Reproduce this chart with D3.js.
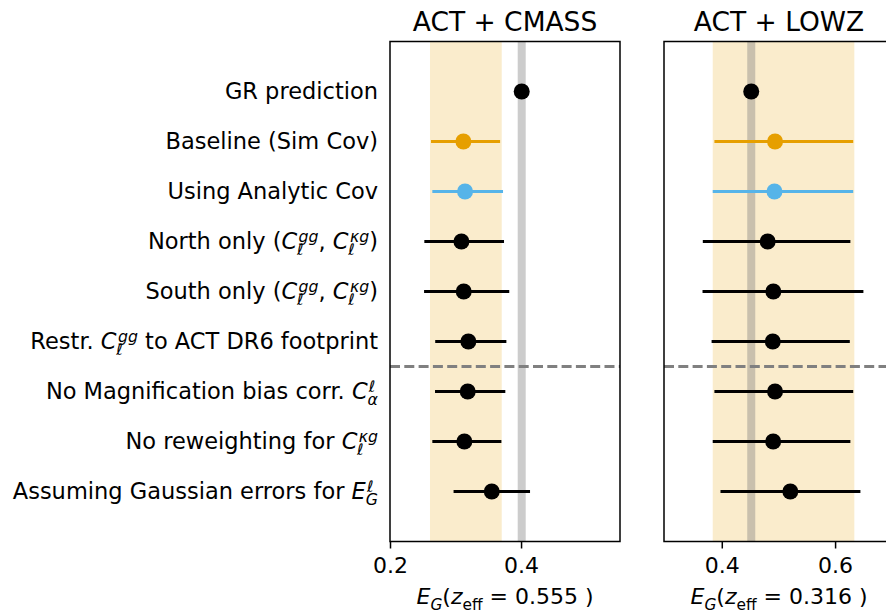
<!DOCTYPE html>
<html>
<head>
<meta charset="utf-8">
<script src="https://cdn.jsdelivr.net/npm/d3@7"></script>
<style>
  body { margin: 0; background: #fff; }
  text { font-family: "DejaVu Sans", sans-serif; fill: #000; white-space: pre; }
</style>
</head>
<body>
<div id="chart"></div>
<script>
// rows, top to bottom. strings are plain text, objects are math bits
const rowLabels = [
    ["GR prediction"],
    ["Baseline (Sim Cov)"],
    ["Using Analytic Cov"],
    ["North only (", {m: "C", sub: "ℓ", sup: "gg"}, {r: ", "}, {m: "C", sub: "ℓ", sup: "κg"}, ")"],
    ["South only (", {m: "C", sub: "ℓ", sup: "gg"}, {r: ", "}, {m: "C", sub: "ℓ", sup: "κg"}, ")"],
    ["Restr. ", {m: "C", sub: "ℓ", sup: "gg"}, " to ACT DR6 footprint"],
    ["No Magnification bias corr. ", {m: "C", sub: "α", sup: "ℓ"}],
    ["No reweighting for ", {m: "C", sub: "ℓ", sup: "κg"}],
    ["Assuming Gaussian errors for ", {m: "E", sub: "G", sup: "ℓ"}]
];
const rowColors = ["#000", "#E69F00", "#56B4E9", "#000", "#000", "#000", "#000", "#000", "#000"];

const panelTitles = ["ACT + CMASS", "ACT + LOWZ"];
const zEff = ["0.555", "0.316"];

// E_G central values and error bar ends (first row = GR prediction, no bar)
const cmassVal = [0.401, 0.312, 0.3145, 0.309, 0.3125, 0.3196, 0.3186, 0.3135, 0.3553];
const cmassLo  = [null, 0.2626, 0.2646, 0.2524, 0.252, 0.269, 0.2687, 0.2646, 0.297];
const cmassHi  = [null, 0.368, 0.3725, 0.374, 0.382, 0.3776, 0.376, 0.370, 0.4137];

const lowzVal = [0.452, 0.494, 0.493, 0.481, 0.491, 0.490, 0.494, 0.4907, 0.521];
const lowzLo  = [null, 0.387, 0.384, 0.3665, 0.366, 0.382, 0.387, 0.384, 0.3977];
const lowzHi  = [null, 0.632, 0.632, 0.627, 0.650, 0.626, 0.632, 0.627, 0.6447];

const cmassBand = [0.261, 0.3705];
const lowzBand  = [0.384, 0.634];
const cmassGR = 0.401;
const lowzGR  = 0.452;

const cmassTicks = [0.2, 0.4];
const lowzTicks  = [0.4, 0.6];

const width = 886, height = 614;
const plotTop = 41.5, plotBottom = 541.5;
const fs = 22.5;

const svg = d3.select("#chart").append("svg")
    .attr("width", width)
    .attr("height", height);

const y = d3.scaleLinear().domain([-1, 9]).range([plotTop, plotBottom]);

// lays out a label made of plain text and math pieces, returns the group width
function richText(g, parts, size) {
    let x = 0;
    const small = size * 0.7;
    function piece(t, px, py, s, italic) {
        const el = g.append("text")
            .attr("x", px).attr("y", py)
            .style("font-size", s + "px")
            .style("font-style", italic ? "oblique" : "normal")
            .text(t);
        return el.node().getComputedTextLength();
    }
    parts.forEach(p => {
        if (typeof p === "string") {
            x += piece(p, x, 0, size, false);
        } else if (p.r) {
            x += piece(p.r, x, 0, size, false);
        } else {
            x += piece(p.m, x, 0, size, true);
            let w = 0;
            if (p.sub) w = Math.max(w, piece(p.sub, x, size * 0.26, small, !p.subRm));
            if (p.sup) w = Math.max(w, piece(p.sup, x + size * 0.06, -size * 0.33, small, true) + size * 0.06);
            x += w;
        }
    });
    return x;
}

const panels = [
    {x0: 390, x1: 620, dom: [0.2, 0.551], val: cmassVal, lo: cmassLo, hi: cmassHi,
     band: cmassBand, gr: cmassGR, ticks: cmassTicks, title: panelTitles[0], z: zEff[0]},
    {x0: 664, x1: 894, dom: [0.298, 0.704], val: lowzVal, lo: lowzLo, hi: lowzHi,
     band: lowzBand, gr: lowzGR, ticks: lowzTicks, title: panelTitles[1], z: zEff[1]}
];

panels.forEach(p => {
    const x = d3.scaleLinear().domain(p.dom).range([p.x0, p.x1]);
    const g = svg.append("g");

    g.append("rect")
        .attr("x", x(p.band[0]))
        .attr("y", plotTop)
        .attr("width", x(p.band[1]) - x(p.band[0]))
        .attr("height", plotBottom - plotTop)
        .attr("fill", "#E69F00")
        .attr("fill-opacity", 0.2);

    g.append("rect")
        .attr("x", x(p.gr) - 4)
        .attr("y", plotTop)
        .attr("width", 8)
        .attr("height", plotBottom - plotTop)
        .attr("fill", "gray")
        .attr("fill-opacity", 0.4);

    g.append("line")
        .attr("x1", p.x0).attr("x2", p.x1)
        .attr("y1", y(5.5)).attr("y2", y(5.5))
        .attr("stroke", "gray")
        .attr("stroke-width", 3)
        .attr("stroke-dasharray", "10,4.3");

    const rows = p.val.map((v, i) => ({v: v, lo: p.lo[i], hi: p.hi[i], i: i, c: rowColors[i]}));

    g.selectAll("line.err")
        .data(rows.filter(d => d.lo !== null))
        .enter()
        .append("line")
        .attr("class", "err")
        .attr("x1", d => x(d.lo))
        .attr("x2", d => x(d.hi))
        .attr("y1", d => y(d.i))
        .attr("y2", d => y(d.i))
        .attr("stroke", d => d.c)
        .attr("stroke-width", 3);

    g.selectAll("circle")
        .data(rows)
        .enter()
        .append("circle")
        .attr("cx", d => x(d.v))
        .attr("cy", d => y(d.i))
        .attr("r", 8)
        .attr("fill", d => d.c);

    g.append("rect")
        .attr("x", p.x0).attr("y", plotTop)
        .attr("width", p.x1 - p.x0).attr("height", plotBottom - plotTop)
        .attr("fill", "none")
        .attr("stroke", "#000")
        .attr("stroke-width", 1.5);

    const axis = d3.axisBottom(x)
        .tickValues(p.ticks)
        .tickFormat(d3.format(".1f"))
        .tickSize(7)
        .tickPadding(9)
        .tickSizeOuter(0);
    const ax = svg.append("g")
        .attr("transform", `translate(0,${plotBottom})`)
        .call(axis);
    ax.select(".domain").remove();
    ax.selectAll(".tick line").attr("stroke", "#000").attr("stroke-width", 1.5);
    ax.selectAll(".tick text")
        .attr("fill", "#000")
        .style("font-family", "DejaVu Sans")
        .style("font-size", "22px");

    const cx = (p.x0 + p.x1) / 2;
    svg.append("text")
        .attr("x", cx)
        .attr("y", 31)
        .attr("text-anchor", "middle")
        .style("font-size", "26.5px")
        .text(p.title);

    const lab = svg.append("g");
    const w = richText(lab, [{m: "E", sub: "G"}, "(", {m: "z", sub: "eff", subRm: true}, ` = ${p.z} )`], 22);
    lab.attr("transform", `translate(${cx - w / 2},604)`);
});

rowLabels.forEach((parts, i) => {
    const lab = svg.append("g");
    const w = richText(lab, parts, fs);
    lab.attr("transform", `translate(${378 - w},${y(i) + 7.5})`);
});
</script>
</body>
</html>
